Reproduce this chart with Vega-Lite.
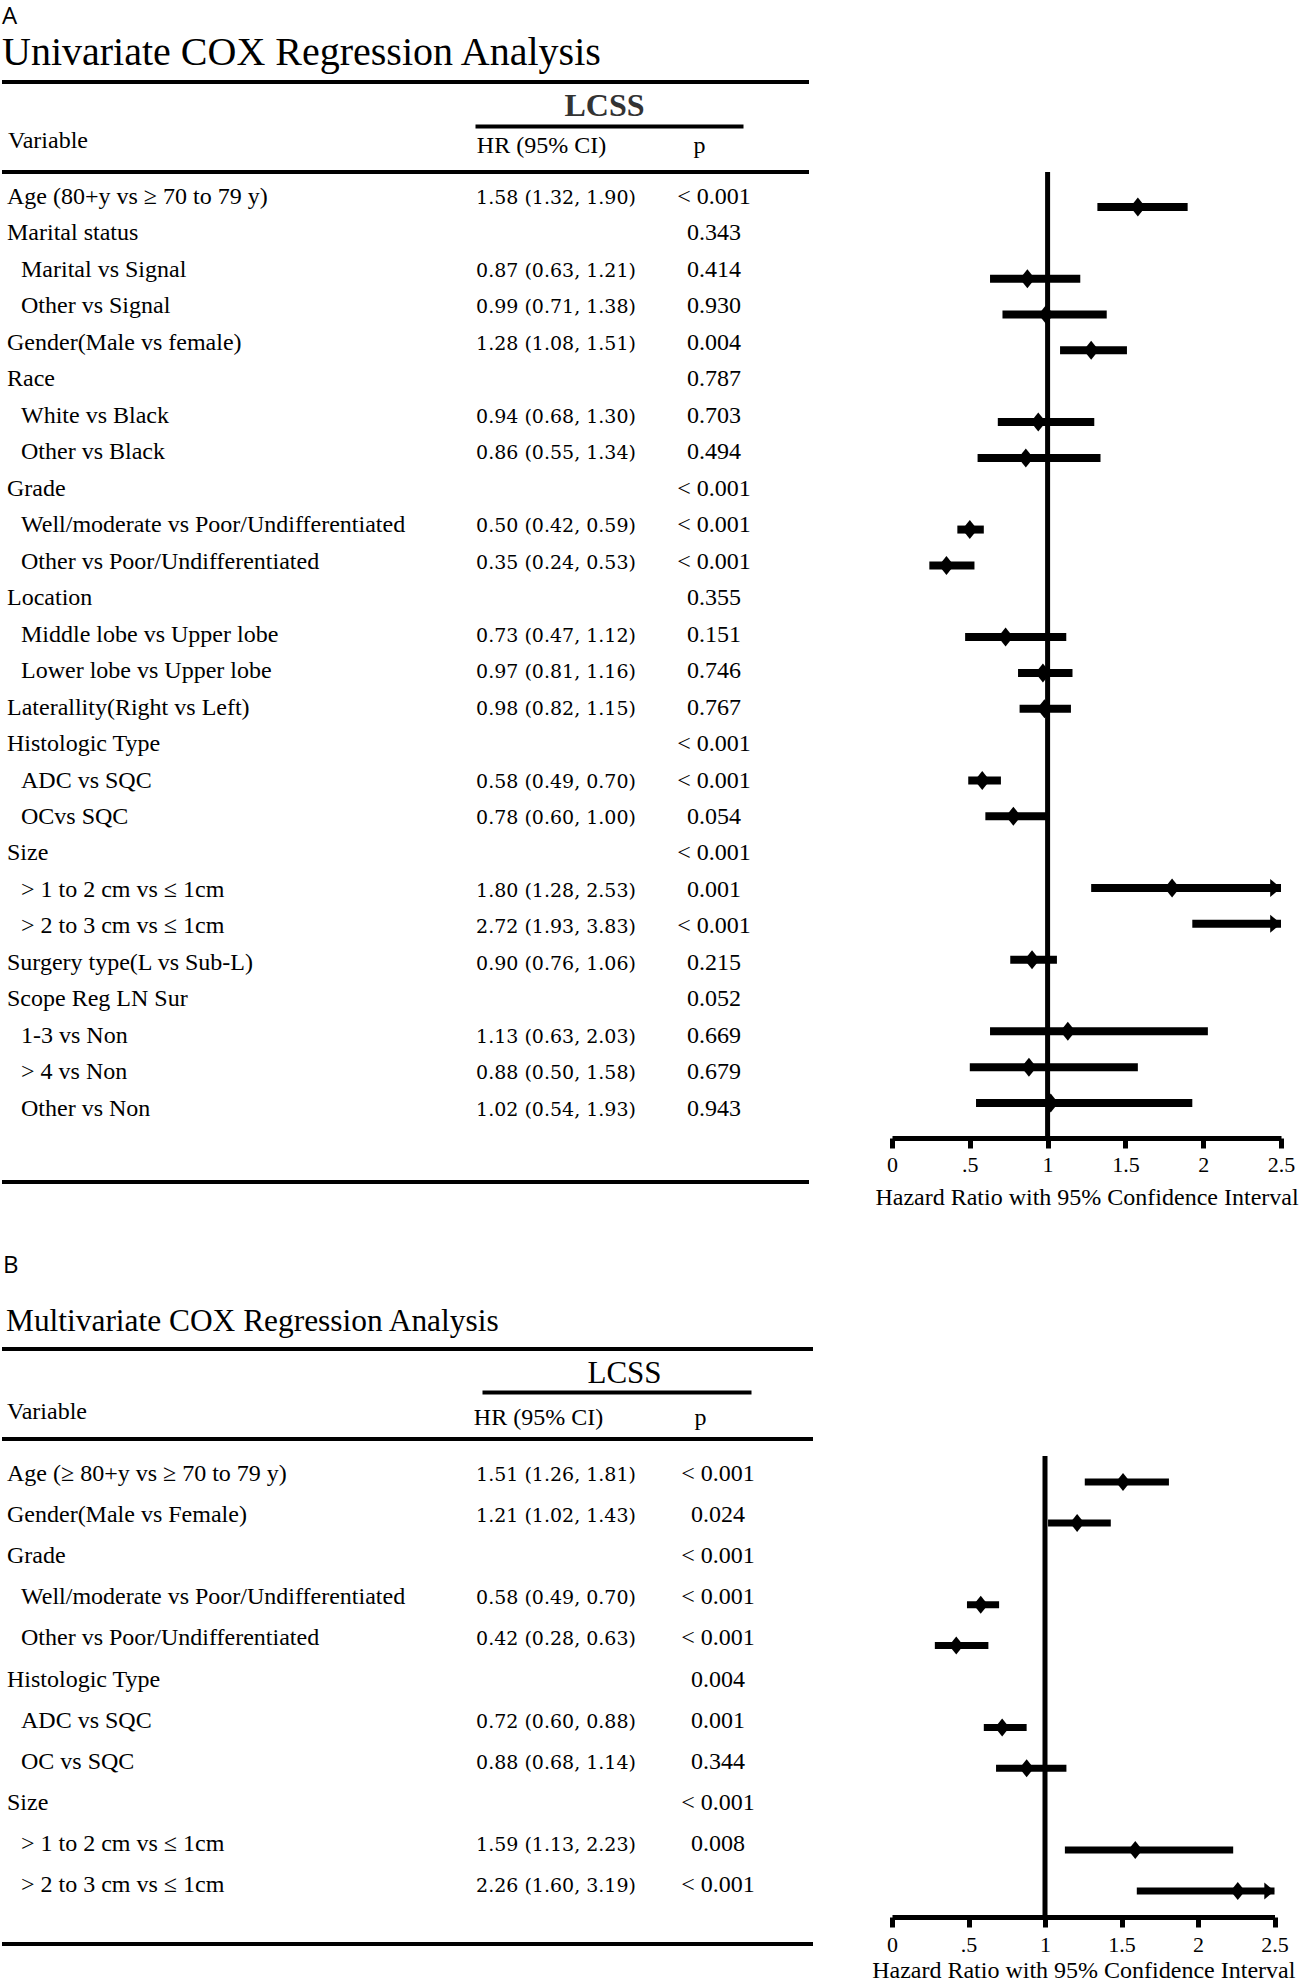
{
  "$schema": "https://vega.github.io/schema/vega-lite/v6.json",
  "background": "white",
  "padding": 0,
  "bounds": "flush",
  "columns": 2,
  "align": {"row": "each", "column": "none"},
  "spacing": {"row": 58, "column": 79},
  "config": {"view": {"stroke": null}, "font": "Liberation Serif", "axis": {"grid": false}},
  "datasets": {
    "uni": [
      {"row": 1, "variable": "Age (80+y vs ≥ 70 to 79 y)", "level": 0, "hr": 1.58, "lo": 1.32, "hi": 1.90, "ci": "1.58 (1.32, 1.90)", "p": "< 0.001"},
      {"row": 2, "variable": "Marital status", "level": 0, "p": "0.343"},
      {"row": 3, "variable": "Marital vs Signal", "level": 1, "hr": 0.87, "lo": 0.63, "hi": 1.21, "ci": "0.87 (0.63, 1.21)", "p": "0.414"},
      {"row": 4, "variable": "Other vs Signal", "level": 1, "hr": 0.99, "lo": 0.71, "hi": 1.38, "ci": "0.99 (0.71, 1.38)", "p": "0.930"},
      {"row": 5, "variable": "Gender(Male vs female)", "level": 0, "hr": 1.28, "lo": 1.08, "hi": 1.51, "ci": "1.28 (1.08, 1.51)", "p": "0.004"},
      {"row": 6, "variable": "Race", "level": 0, "p": "0.787"},
      {"row": 7, "variable": "White vs Black", "level": 1, "hr": 0.94, "lo": 0.68, "hi": 1.30, "ci": "0.94 (0.68, 1.30)", "p": "0.703"},
      {"row": 8, "variable": "Other vs Black", "level": 1, "hr": 0.86, "lo": 0.55, "hi": 1.34, "ci": "0.86 (0.55, 1.34)", "p": "0.494"},
      {"row": 9, "variable": "Grade", "level": 0, "p": "< 0.001"},
      {"row": 10, "variable": "Well/moderate vs Poor/Undifferentiated", "level": 1, "hr": 0.50, "lo": 0.42, "hi": 0.59, "ci": "0.50 (0.42, 0.59)", "p": "< 0.001"},
      {"row": 11, "variable": "Other vs Poor/Undifferentiated", "level": 1, "hr": 0.35, "lo": 0.24, "hi": 0.53, "ci": "0.35 (0.24, 0.53)", "p": "< 0.001"},
      {"row": 12, "variable": "Location", "level": 0, "p": "0.355"},
      {"row": 13, "variable": "Middle lobe vs Upper lobe", "level": 1, "hr": 0.73, "lo": 0.47, "hi": 1.12, "ci": "0.73 (0.47, 1.12)", "p": "0.151"},
      {"row": 14, "variable": "Lower lobe vs Upper lobe", "level": 1, "hr": 0.97, "lo": 0.81, "hi": 1.16, "ci": "0.97 (0.81, 1.16)", "p": "0.746"},
      {"row": 15, "variable": "Laterallity(Right vs Left)", "level": 0, "hr": 0.98, "lo": 0.82, "hi": 1.15, "ci": "0.98 (0.82, 1.15)", "p": "0.767"},
      {"row": 16, "variable": "Histologic Type", "level": 0, "p": "< 0.001"},
      {"row": 17, "variable": "ADC vs SQC", "level": 1, "hr": 0.58, "lo": 0.49, "hi": 0.70, "ci": "0.58 (0.49, 0.70)", "p": "< 0.001"},
      {"row": 18, "variable": "OCvs SQC", "level": 1, "hr": 0.78, "lo": 0.60, "hi": 1.00, "ci": "0.78 (0.60, 1.00)", "p": "0.054"},
      {"row": 19, "variable": "Size", "level": 0, "p": "< 0.001"},
      {"row": 20, "variable": "> 1 to 2 cm vs ≤ 1cm", "level": 1, "hr": 1.80, "lo": 1.28, "hi": 2.53, "ci": "1.80 (1.28, 2.53)", "p": "0.001"},
      {"row": 21, "variable": "> 2 to 3 cm vs ≤ 1cm", "level": 1, "hr": 2.72, "lo": 1.93, "hi": 3.83, "ci": "2.72 (1.93, 3.83)", "p": "< 0.001"},
      {"row": 22, "variable": "Surgery type(L vs Sub-L)", "level": 0, "hr": 0.90, "lo": 0.76, "hi": 1.06, "ci": "0.90 (0.76, 1.06)", "p": "0.215"},
      {"row": 23, "variable": "Scope Reg LN Sur", "level": 0, "p": "0.052"},
      {"row": 24, "variable": "1-3 vs Non", "level": 1, "hr": 1.13, "lo": 0.63, "hi": 2.03, "ci": "1.13 (0.63, 2.03)", "p": "0.669"},
      {"row": 25, "variable": "> 4 vs Non", "level": 1, "hr": 0.88, "lo": 0.50, "hi": 1.58, "ci": "0.88 (0.50, 1.58)", "p": "0.679"},
      {"row": 26, "variable": "Other vs Non", "level": 1, "hr": 1.02, "lo": 0.54, "hi": 1.93, "ci": "1.02 (0.54, 1.93)", "p": "0.943"}
    ],
    "multi": [
      {"row": 1, "variable": "Age (≥ 80+y vs ≥ 70 to 79 y)", "level": 0, "hr": 1.51, "lo": 1.26, "hi": 1.81, "ci": "1.51 (1.26, 1.81)", "p": "< 0.001"},
      {"row": 2, "variable": "Gender(Male vs Female)", "level": 0, "hr": 1.21, "lo": 1.02, "hi": 1.43, "ci": "1.21 (1.02, 1.43)", "p": "0.024"},
      {"row": 3, "variable": "Grade", "level": 0, "p": "< 0.001"},
      {"row": 4, "variable": "Well/moderate vs Poor/Undifferentiated", "level": 1, "hr": 0.58, "lo": 0.49, "hi": 0.70, "ci": "0.58 (0.49, 0.70)", "p": "< 0.001"},
      {"row": 5, "variable": "Other vs Poor/Undifferentiated", "level": 1, "hr": 0.42, "lo": 0.28, "hi": 0.63, "ci": "0.42 (0.28, 0.63)", "p": "< 0.001"},
      {"row": 6, "variable": "Histologic Type", "level": 0, "p": "0.004"},
      {"row": 7, "variable": "ADC vs SQC", "level": 1, "hr": 0.72, "lo": 0.60, "hi": 0.88, "ci": "0.72 (0.60, 0.88)", "p": "0.001"},
      {"row": 8, "variable": "OC vs SQC", "level": 1, "hr": 0.88, "lo": 0.68, "hi": 1.14, "ci": "0.88 (0.68, 1.14)", "p": "0.344"},
      {"row": 9, "variable": "Size", "level": 0, "p": "< 0.001"},
      {"row": 10, "variable": "> 1 to 2 cm vs ≤ 1cm", "level": 1, "hr": 1.59, "lo": 1.13, "hi": 2.23, "ci": "1.59 (1.13, 2.23)", "p": "0.008"},
      {"row": 11, "variable": "> 2 to 3 cm vs ≤ 1cm", "level": 1, "hr": 2.26, "lo": 1.60, "hi": 3.19, "ci": "2.26 (1.60, 3.19)", "p": "< 0.001"}
    ]
  },
  "concat": [
    {
      "width": 807,
      "height": 1182,
      "resolve": {"scale": {"x": "independent"}, "axis": {"x": "independent"}},
      "layer": [
        {"data": {"values": [{}]},
         "mark": {"type": "text", "text": "A", "font": "Open Sans", "fontSize": 24, "align": "left", "baseline": "alphabetic", "dx": -5, "color": "black"},
         "encoding": {"x": {"datum": 0, "type": "quantitative", "scale": {"domain": [0, 1], "range": [5, 19]}, "axis": null},
                      "y": {"datum": -3.936, "type": "quantitative", "scale": {"domain": [-4.594, 27.817], "reverse": true, "nice": false, "zero": false}, "axis": null}}},
        {"data": {"values": [{}]},
         "mark": {"type": "text", "text": "Univariate COX Regression Analysis", "font": "Liberation Serif", "fontSize": 40, "align": "left", "baseline": "alphabetic", "dx": -5, "color": "black"},
         "encoding": {"x": {"datum": 0, "type": "quantitative", "scale": {"domain": [0, 1], "range": [5, 19]}, "axis": null},
                      "y": {"datum": -2.811, "type": "quantitative", "scale": {"domain": [-4.594, 27.817], "reverse": true, "nice": false, "zero": false}, "axis": null}}},
        {"data": {"values": [{}]},
         "mark": {"type": "rule", "strokeWidth": 4, "color": "black"},
         "encoding": {"y": {"datum": -2.345, "type": "quantitative", "scale": {"domain": [-4.594, 27.817], "reverse": true, "nice": false, "zero": false}, "axis": null}}},
        {"data": {"values": [{}]},
         "mark": {"type": "rule", "strokeWidth": 4, "color": "black"},
         "encoding": {"y": {"datum": 0.123, "type": "quantitative", "scale": {"domain": [-4.594, 27.817], "reverse": true, "nice": false, "zero": false}, "axis": null}}},
        {"data": {"values": [{}]},
         "mark": {"type": "rule", "strokeWidth": 4, "color": "black"},
         "encoding": {"y": {"datum": 27.817, "type": "quantitative", "scale": {"domain": [-4.594, 27.817], "reverse": true, "nice": false, "zero": false}, "axis": null}}},
        {"data": {"values": [{}]},
         "mark": {"type": "text", "text": "Variable", "font": "Liberation Serif", "fontSize": 24, "align": "left", "baseline": "alphabetic", "dx": 1, "color": "black"},
         "encoding": {"x": {"datum": 0, "type": "quantitative", "scale": {"domain": [0, 1], "range": [5, 19]}, "axis": null},
                      "y": {"datum": -0.536, "type": "quantitative", "scale": {"domain": [-4.594, 27.817], "reverse": true, "nice": false, "zero": false}, "axis": null}}},
        {"data": {"name": "uni"},
         "mark": {"type": "text", "font": "Liberation Serif", "fontSize": 24, "align": "left", "baseline": "alphabetic", "color": "black"},
         "encoding": {"x": {"field": "level", "type": "quantitative", "scale": {"domain": [0, 1], "range": [5, 19]}, "axis": null},
                      "y": {"field": "row", "type": "quantitative", "scale": {"domain": [-4.594, 27.817], "reverse": true, "nice": false, "zero": false}, "axis": null},
                      "text": {"field": "variable"}}},
        {"data": {"name": "uni"},
         "transform": [{"filter": "isValid(datum.ci)"}],
         "mark": {"type": "text", "font": "DejaVu Serif", "fontSize": 19, "align": "center", "baseline": "alphabetic", "color": "black"},
         "encoding": {"x": {"datum": "HR (95% CI)", "type": "nominal",
                            "scale": {"type": "point", "domain": ["HR (95% CI)", "p"], "range": [473, 741], "padding": 0.3481, "align": 0.7364},
                            "axis": {"orient": "bottom", "offset": -1056, "domain": true, "domainWidth": 4, "domainColor": "black", "ticks": false, "tickSize": 0,
                                     "labelFont": "Liberation Serif", "labelFontSize": 24, "labelColor": "black", "labelBaseline": "alphabetic", "labelPadding": 26, "labelOffset": -15, "labelAngle": 0,
                                     "title": "LCSS", "titleFont": "Liberation Serif", "titleFontSize": 32, "titleFontWeight": "bold", "titleColor": "#333333", "titleBaseline": "alphabetic", "titleAlign": "center", "titleX": 602, "titleY": -11}},
                      "y": {"field": "row", "type": "quantitative", "scale": {"domain": [-4.594, 27.817], "reverse": true, "nice": false, "zero": false}, "axis": null},
                      "text": {"field": "ci"}}},
        {"data": {"name": "uni"},
         "transform": [{"filter": "isValid(datum.p)"}],
         "mark": {"type": "text", "font": "Liberation Serif", "fontSize": 24, "align": "center", "baseline": "alphabetic", "color": "black"},
         "encoding": {"x": {"datum": "p", "type": "nominal",
                            "scale": {"type": "point", "domain": ["HR (95% CI)", "p"], "range": [473, 741], "padding": 0.3481, "align": 0.7364}, "axis": null},
                      "y": {"field": "row", "type": "quantitative", "scale": {"domain": [-4.594, 27.817], "reverse": true, "nice": false, "zero": false}, "axis": null},
                      "text": {"field": "p"}}}
      ]
    },
    {
      "width": 389,
      "height": 1138,
      "data": {"name": "uni"},
      "layer": [
        {"data": {"values": [{}]},
         "mark": {"type": "rule", "strokeWidth": 5, "color": "black"},
         "encoding": {"x": {"datum": 1, "type": "quantitative", "scale": {"domain": [0, 2.5], "clamp": true, "nice": false, "zero": false},
                            "axis": {"orient": "bottom", "values": [0, 0.5, 1, 1.5, 2, 2.5], "format": "~g", "labelExpr": "datum.value == 0.5 ? '.5' : datum.label", "domainWidth": 5, "domainColor": "black", "tickWidth": 5, "tickColor": "black", "tickSize": 10, "labelFont": "Liberation Serif", "labelFontSize": 22, "labelColor": "black", "labelPadding": 6, "labelFlush": false, "labelOverlap": false, "grid": false, "title": "Hazard Ratio with 95% Confidence Interval", "titleFont": "Liberation Serif", "titleFontSize": 24, "titleFontWeight": "normal", "titleColor": "black", "titlePadding": 10}},
                      "y": {"datum": 0.0234, "type": "quantitative", "scale": {"domain": [-4.776, 26.977], "reverse": true, "nice": false, "zero": false}, "axis": null},
                      "y2": {"datum": 26.977}}},
        {"transform": [{"filter": "isValid(datum.lo)"}],
         "mark": {"type": "rule", "strokeWidth": 8, "color": "black"},
         "encoding": {"x": {"field": "lo", "type": "quantitative", "scale": {"domain": [0, 2.5], "clamp": true, "nice": false, "zero": false},
                            "axis": {"orient": "bottom", "values": [0, 0.5, 1, 1.5, 2, 2.5], "format": "~g", "labelExpr": "datum.value == 0.5 ? '.5' : datum.label", "domainWidth": 5, "domainColor": "black", "tickWidth": 5, "tickColor": "black", "tickSize": 10, "labelFont": "Liberation Serif", "labelFontSize": 22, "labelColor": "black", "labelPadding": 6, "labelFlush": false, "labelOverlap": false, "grid": false, "title": "Hazard Ratio with 95% Confidence Interval", "titleFont": "Liberation Serif", "titleFontSize": 24, "titleFontWeight": "normal", "titleColor": "black", "titlePadding": 10}},
                      "x2": {"field": "hi"},
                      "y": {"field": "row", "type": "quantitative", "scale": {"domain": [-4.776, 26.977], "reverse": true, "nice": false, "zero": false}, "axis": null}}},
        {"transform": [{"filter": "isValid(datum.hr) && datum.hr <= 2.5"}],
         "mark": {"type": "point", "shape": "M0,-1L0.8,0L0,1L-0.8,0Z", "size": 361, "filled": true, "color": "black", "opacity": 1},
         "encoding": {"x": {"field": "hr", "type": "quantitative", "scale": {"domain": [0, 2.5], "clamp": true, "nice": false, "zero": false},
                            "axis": {"orient": "bottom", "values": [0, 0.5, 1, 1.5, 2, 2.5], "format": "~g", "labelExpr": "datum.value == 0.5 ? '.5' : datum.label", "domainWidth": 5, "domainColor": "black", "tickWidth": 5, "tickColor": "black", "tickSize": 10, "labelFont": "Liberation Serif", "labelFontSize": 22, "labelColor": "black", "labelPadding": 6, "labelFlush": false, "labelOverlap": false, "grid": false, "title": "Hazard Ratio with 95% Confidence Interval", "titleFont": "Liberation Serif", "titleFontSize": 24, "titleFontWeight": "normal", "titleColor": "black", "titlePadding": 10}},
                      "y": {"field": "row", "type": "quantitative", "scale": {"domain": [-4.776, 26.977], "reverse": true, "nice": false, "zero": false}, "axis": null}}},
        {"transform": [{"filter": "datum.hi > 2.5"}],
         "mark": {"type": "point", "shape": "M-1.2,-1L0,0L-1.2,1Z", "size": 324, "filled": true, "color": "black", "opacity": 1},
         "encoding": {"x": {"field": "hi", "type": "quantitative", "scale": {"domain": [0, 2.5], "clamp": true, "nice": false, "zero": false},
                            "axis": {"orient": "bottom", "values": [0, 0.5, 1, 1.5, 2, 2.5], "format": "~g", "labelExpr": "datum.value == 0.5 ? '.5' : datum.label", "domainWidth": 5, "domainColor": "black", "tickWidth": 5, "tickColor": "black", "tickSize": 10, "labelFont": "Liberation Serif", "labelFontSize": 22, "labelColor": "black", "labelPadding": 6, "labelFlush": false, "labelOverlap": false, "grid": false, "title": "Hazard Ratio with 95% Confidence Interval", "titleFont": "Liberation Serif", "titleFontSize": 24, "titleFontWeight": "normal", "titleColor": "black", "titlePadding": 10}},
                      "y": {"field": "row", "type": "quantitative", "scale": {"domain": [-4.776, 26.977], "reverse": true, "nice": false, "zero": false}, "axis": null}}}
      ]
    },
    {
      "width": 811,
      "height": 704,
      "resolve": {"scale": {"x": "independent"}, "axis": {"x": "independent"}},
      "layer": [
        {"data": {"values": [{}]},
         "mark": {"type": "text", "text": "B", "font": "Open Sans", "fontSize": 24, "align": "left", "baseline": "alphabetic", "dx": -4, "color": "black"},
         "encoding": {"x": {"datum": 0, "type": "quantitative", "scale": {"domain": [0, 1], "range": [5, 19]}, "axis": null},
                      "y": {"datum": -4.061, "type": "quantitative", "scale": {"domain": [-4.864, 12.265], "reverse": true, "nice": false, "zero": false}, "axis": null}}},
        {"data": {"values": [{}]},
         "mark": {"type": "text", "text": "Multivariate COX Regression Analysis", "font": "Liberation Serif", "fontSize": 31.4, "align": "left", "baseline": "alphabetic", "dx": -1, "color": "black"},
         "encoding": {"x": {"datum": 0, "type": "quantitative", "scale": {"domain": [0, 1], "range": [5, 19]}, "axis": null},
                      "y": {"datum": -2.65, "type": "quantitative", "scale": {"domain": [-4.864, 12.265], "reverse": true, "nice": false, "zero": false}, "axis": null}}},
        {"data": {"values": [{}]},
         "mark": {"type": "rule", "strokeWidth": 4, "color": "black"},
         "encoding": {"y": {"datum": -2.212, "type": "quantitative", "scale": {"domain": [-4.864, 12.265], "reverse": true, "nice": false, "zero": false}, "axis": null}}},
        {"data": {"values": [{}]},
         "mark": {"type": "rule", "strokeWidth": 4, "color": "black"},
         "encoding": {"y": {"datum": -0.022, "type": "quantitative", "scale": {"domain": [-4.864, 12.265], "reverse": true, "nice": false, "zero": false}, "axis": null}}},
        {"data": {"values": [{}]},
         "mark": {"type": "rule", "strokeWidth": 4, "color": "black"},
         "encoding": {"y": {"datum": 12.265, "type": "quantitative", "scale": {"domain": [-4.864, 12.265], "reverse": true, "nice": false, "zero": false}, "axis": null}}},
        {"data": {"values": [{}]},
         "mark": {"type": "text", "text": "Variable", "font": "Liberation Serif", "fontSize": 24, "align": "left", "baseline": "alphabetic", "dx": 0, "color": "black"},
         "encoding": {"x": {"datum": 0, "type": "quantitative", "scale": {"domain": [0, 1], "range": [5, 19]}, "axis": null},
                      "y": {"datum": -0.5085, "type": "quantitative", "scale": {"domain": [-4.864, 12.265], "reverse": true, "nice": false, "zero": false}, "axis": null}}},
        {"data": {"name": "multi"},
         "mark": {"type": "text", "font": "Liberation Serif", "fontSize": 24, "align": "left", "baseline": "alphabetic", "color": "black"},
         "encoding": {"x": {"field": "level", "type": "quantitative", "scale": {"domain": [0, 1], "range": [5, 19]}, "axis": null},
                      "y": {"field": "row", "type": "quantitative", "scale": {"domain": [-4.864, 12.265], "reverse": true, "nice": false, "zero": false}, "axis": null},
                      "text": {"field": "variable"}}},
        {"data": {"name": "multi"},
         "transform": [{"filter": "isValid(datum.ci)"}],
         "mark": {"type": "text", "font": "DejaVu Serif", "fontSize": 19, "align": "center", "baseline": "alphabetic", "color": "black"},
         "encoding": {"x": {"datum": "HR (95% CI)", "type": "nominal",
                            "scale": {"type": "point", "domain": ["HR (95% CI)", "p"], "range": [480, 749], "padding": 0.3302, "align": 0.6916},
                            "axis": {"orient": "bottom", "offset": -552, "domain": true, "domainWidth": 4, "domainColor": "black", "ticks": false, "tickSize": 0,
                                     "labelFont": "Liberation Serif", "labelFontSize": 24, "labelColor": "black", "labelBaseline": "alphabetic", "labelPadding": 32, "labelOffset": -18, "labelAngle": 0,
                                     "title": "LCSS", "titleFont": "Liberation Serif", "titleFontSize": 31, "titleFontWeight": "normal", "titleColor": "black", "titleBaseline": "alphabetic", "titleAlign": "center", "titleX": 622, "titleY": -10}},
                      "y": {"field": "row", "type": "quantitative", "scale": {"domain": [-4.864, 12.265], "reverse": true, "nice": false, "zero": false}, "axis": null},
                      "text": {"field": "ci"}}},
        {"data": {"name": "multi"},
         "transform": [{"filter": "isValid(datum.p)"}],
         "mark": {"type": "text", "font": "Liberation Serif", "fontSize": 24, "align": "center", "baseline": "alphabetic", "color": "black"},
         "encoding": {"x": {"datum": "p", "type": "nominal",
                            "scale": {"type": "point", "domain": ["HR (95% CI)", "p"], "range": [480, 749], "padding": 0.3302, "align": 0.6916}, "axis": null},
                      "y": {"field": "row", "type": "quantitative", "scale": {"domain": [-4.864, 12.265], "reverse": true, "nice": false, "zero": false}, "axis": null},
                      "text": {"field": "p"}}}
      ]
    },
    {
      "width": 382.5,
      "height": 677,
      "data": {"name": "multi"},
      "layer": [
        {"data": {"values": [{}]},
         "mark": {"type": "rule", "strokeWidth": 5, "color": "black"},
         "encoding": {"x": {"datum": 1, "type": "quantitative", "scale": {"domain": [0, 2.5], "clamp": true, "nice": false, "zero": false},
                            "axis": {"orient": "bottom", "values": [0, 0.5, 1, 1.5, 2, 2.5], "format": "~g", "labelExpr": "datum.value == 0.5 ? '.5' : datum.label", "domainWidth": 5, "domainColor": "black", "tickWidth": 5, "tickColor": "black", "tickSize": 10, "labelFont": "Liberation Serif", "labelFontSize": 22, "labelColor": "black", "labelPadding": 7, "labelFlush": false, "labelOverlap": false, "grid": false, "title": "Hazard Ratio with 95% Confidence Interval", "titleFont": "Liberation Serif", "titleFontSize": 24, "titleFontWeight": "normal", "titleColor": "black", "titlePadding": 3}},
                      "y": {"datum": 0.364, "type": "quantitative", "scale": {"domain": [-4.917, 11.636], "reverse": true, "nice": false, "zero": false}, "axis": null},
                      "y2": {"datum": 11.636}}},
        {"transform": [{"filter": "isValid(datum.lo)"}],
         "mark": {"type": "rule", "strokeWidth": 7, "color": "black"},
         "encoding": {"x": {"field": "lo", "type": "quantitative", "scale": {"domain": [0, 2.5], "clamp": true, "nice": false, "zero": false},
                            "axis": {"orient": "bottom", "values": [0, 0.5, 1, 1.5, 2, 2.5], "format": "~g", "labelExpr": "datum.value == 0.5 ? '.5' : datum.label", "domainWidth": 5, "domainColor": "black", "tickWidth": 5, "tickColor": "black", "tickSize": 10, "labelFont": "Liberation Serif", "labelFontSize": 22, "labelColor": "black", "labelPadding": 7, "labelFlush": false, "labelOverlap": false, "grid": false, "title": "Hazard Ratio with 95% Confidence Interval", "titleFont": "Liberation Serif", "titleFontSize": 24, "titleFontWeight": "normal", "titleColor": "black", "titlePadding": 3}},
                      "x2": {"field": "hi"},
                      "y": {"field": "row", "type": "quantitative", "scale": {"domain": [-4.917, 11.636], "reverse": true, "nice": false, "zero": false}, "axis": null}}},
        {"transform": [{"filter": "isValid(datum.hr) && datum.hr <= 2.5"}],
         "mark": {"type": "point", "shape": "M0,-1L0.8,0L0,1L-0.8,0Z", "size": 324, "filled": true, "color": "black", "opacity": 1},
         "encoding": {"x": {"field": "hr", "type": "quantitative", "scale": {"domain": [0, 2.5], "clamp": true, "nice": false, "zero": false},
                            "axis": {"orient": "bottom", "values": [0, 0.5, 1, 1.5, 2, 2.5], "format": "~g", "labelExpr": "datum.value == 0.5 ? '.5' : datum.label", "domainWidth": 5, "domainColor": "black", "tickWidth": 5, "tickColor": "black", "tickSize": 10, "labelFont": "Liberation Serif", "labelFontSize": 22, "labelColor": "black", "labelPadding": 7, "labelFlush": false, "labelOverlap": false, "grid": false, "title": "Hazard Ratio with 95% Confidence Interval", "titleFont": "Liberation Serif", "titleFontSize": 24, "titleFontWeight": "normal", "titleColor": "black", "titlePadding": 3}},
                      "y": {"field": "row", "type": "quantitative", "scale": {"domain": [-4.917, 11.636], "reverse": true, "nice": false, "zero": false}, "axis": null}}},
        {"transform": [{"filter": "datum.hi > 2.5"}],
         "mark": {"type": "point", "shape": "M-1.2,-1L0,0L-1.2,1Z", "size": 289, "filled": true, "color": "black", "opacity": 1},
         "encoding": {"x": {"field": "hi", "type": "quantitative", "scale": {"domain": [0, 2.5], "clamp": true, "nice": false, "zero": false},
                            "axis": {"orient": "bottom", "values": [0, 0.5, 1, 1.5, 2, 2.5], "format": "~g", "labelExpr": "datum.value == 0.5 ? '.5' : datum.label", "domainWidth": 5, "domainColor": "black", "tickWidth": 5, "tickColor": "black", "tickSize": 10, "labelFont": "Liberation Serif", "labelFontSize": 22, "labelColor": "black", "labelPadding": 7, "labelFlush": false, "labelOverlap": false, "grid": false, "title": "Hazard Ratio with 95% Confidence Interval", "titleFont": "Liberation Serif", "titleFontSize": 24, "titleFontWeight": "normal", "titleColor": "black", "titlePadding": 3}},
                      "y": {"field": "row", "type": "quantitative", "scale": {"domain": [-4.917, 11.636], "reverse": true, "nice": false, "zero": false}, "axis": null}}}
      ]
    }
  ]
}
